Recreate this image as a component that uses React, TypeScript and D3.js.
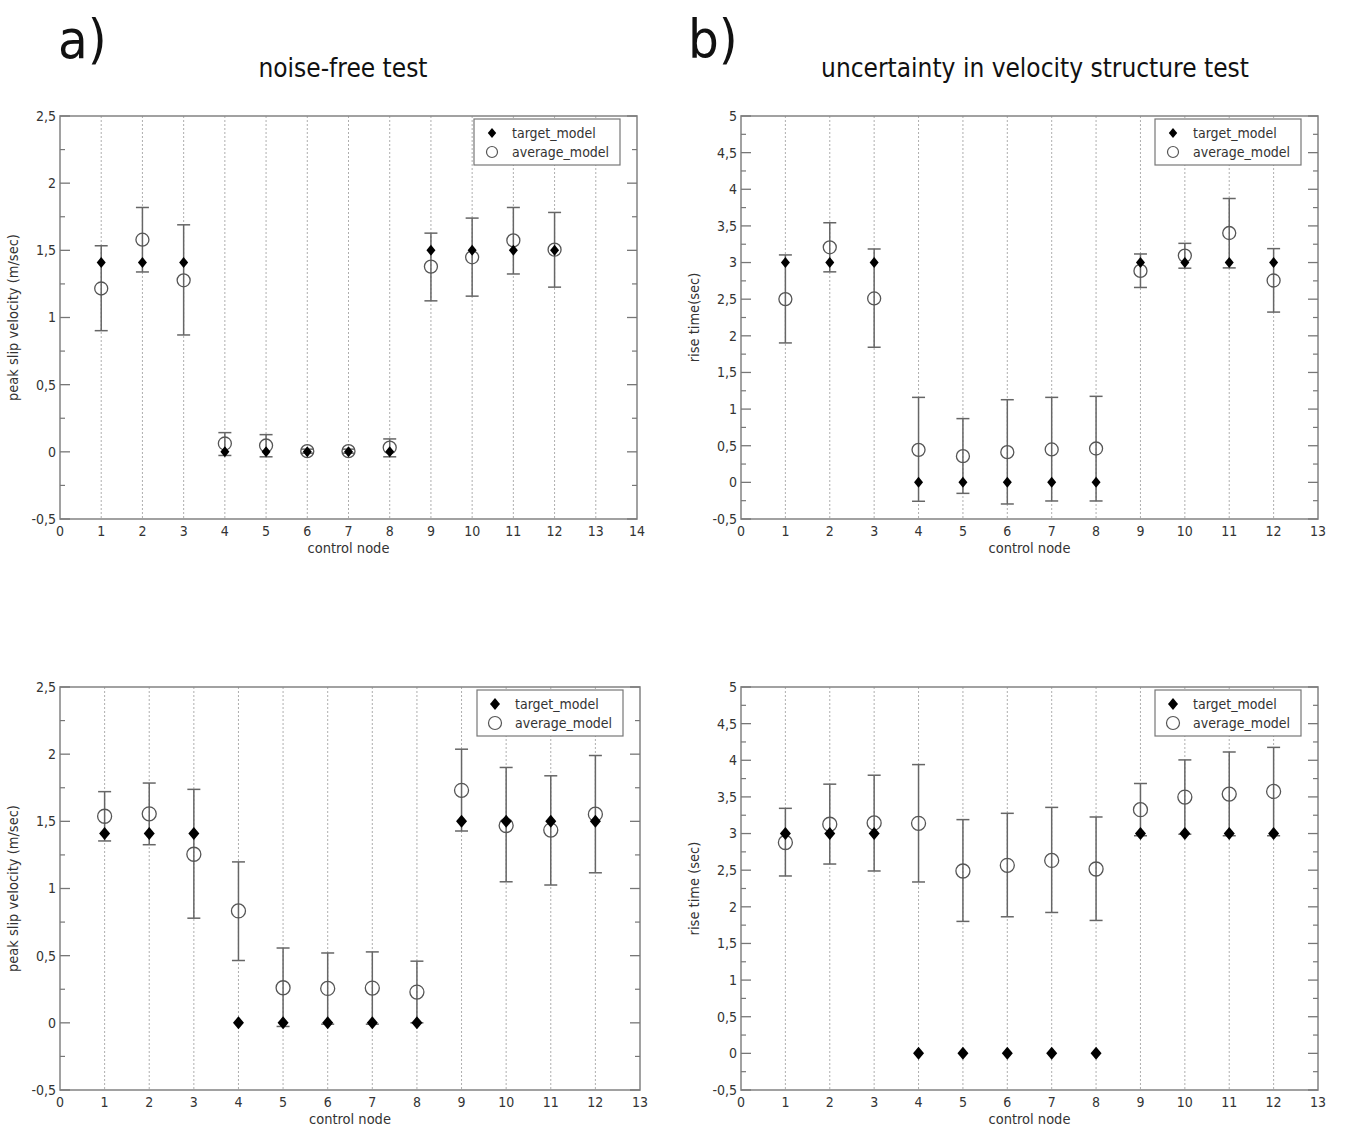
import React from "react";
import * as d3 from "d3";

const nodes = [1, 2, 3, 4, 5, 6, 7, 8, 9, 10, 11, 12];

// Panel a) top: peak slip velocity, noise-free test
const targetA1 = [1.41, 1.41, 1.41, 0, 0, 0, 0, 0, 1.5, 1.5, 1.5, 1.5];
const avgA1 = [1.216, 1.579, 1.277, 0.062, 0.047, 0.005, 0.005, 0.032, 1.379, 1.448, 1.574, 1.505];
const hiA1 = [1.534, 1.819, 1.69, 0.143, 0.128, 0.02, 0.02, 0.096, 1.628, 1.74, 1.819, 1.782];
const loA1 = [0.902, 1.339, 0.87, -0.027, -0.037, -0.01, -0.01, -0.037, 1.124, 1.159, 1.324, 1.226];

// Panel b) top: rise time, uncertainty in velocity structure test
const targetB1 = [3, 3, 3, 0, 0, 0, 0, 0, 3, 3, 3, 3];
const avgB1 = [2.501, 3.208, 2.51, 0.444, 0.358, 0.412, 0.449, 0.462, 2.886, 3.095, 3.403, 2.755];
const hiB1 = [3.104, 3.543, 3.185, 1.16, 0.87, 1.128, 1.16, 1.174, 3.117, 3.262, 3.874, 3.19];
const loB1 = [1.903, 2.873, 1.844, -0.258, -0.15, -0.295, -0.254, -0.254, 2.66, 2.923, 2.927, 2.324];

// Panel a) bottom
const targetA2 = [1.41, 1.41, 1.41, 0, 0, 0, 0, 0, 1.5, 1.5, 1.5, 1.5];
const avgA2 = [1.538, 1.556, 1.255, 0.833, 0.261, 0.256, 0.259, 0.229, 1.731, 1.469, 1.435, 1.553];
const hiA2 = [1.721, 1.785, 1.738, 1.198, 0.557, 0.52, 0.528, 0.459, 2.037, 1.901, 1.839, 1.99];
const loA2 = [1.354, 1.326, 0.779, 0.464, -0.027, -0.01, -0.01, 0.0, 1.428, 1.05, 1.026, 1.117];

// Panel b) bottom
const targetB2 = [3, 3, 3, 0, 0, 0, 0, 0, 3, 3, 3, 3];
const avgB2 = [2.878, 3.127, 3.145, 3.14, 2.489, 2.566, 2.633, 2.516, 3.326, 3.498, 3.538, 3.575];
const hiB2 = [3.344, 3.674, 3.796, 3.941, 3.19, 3.276, 3.357, 3.226, 3.683, 4.005, 4.113, 4.176];
const loB2 = [2.421, 2.584, 2.489, 2.339, 1.801, 1.864, 1.923, 1.814, 2.97, 2.99, 2.97, 2.97];

const velTicks = [-0.5, 0, 0.5, 1, 1.5, 2, 2.5];
const riseTicks = [-0.5, 0, 0.5, 1, 1.5, 2, 2.5, 3, 3.5, 4, 4.5, 5];
const xTicks14 = d3.range(0, 15);
const xTicks13 = d3.range(0, 14);

const seriesNames = ["target_model", "average_model"];
const titles = ["noise-free test", "uncertainty in velocity structure test"];
const panelLetters = ["a)", "b)"];

const FONT = "'Liberation Sans Narrow', 'DejaVu Sans Condensed', 'Open Sans', sans-serif";
const fmt = (v: number) => String(v).replace(".", ",");

type PanelProps = {
  left: number; right: number; top: number; bottom: number;
  xMax: number; xTicks: number[]; yDomain: [number, number]; yTicks: number[];
  yLabel: string; target: number[]; avg: number[]; hi: number[]; lo: number[];
  big: boolean;
};

function Panel(p: PanelProps) {
  const x = d3.scaleLinear().domain([0, p.xMax]).range([p.left, p.right]);
  const y = d3.scaleLinear().domain(p.yDomain).range([p.bottom, p.top]);
  const minor = d3.range(p.yDomain[0] + 0.25, p.yDomain[1], 0.5);
  const dSize = p.big ? 6.5 : 5.5;
  const dW = p.big ? 5.5 : 4.5;
  const cr = p.big ? 7 : 6.5;
  const diamond = (cx: number, cy: number, s: number, w: number) =>
    `M${cx},${cy - s}L${cx + w},${cy}L${cx},${cy + s}L${cx - w},${cy}Z`;
  const legX = p.right - 17 - 146;
  const legY = p.top + 3;
  return (
    <g>
      {p.xTicks.slice(1, -1).map((t) => (
        <line key={"g" + t} x1={x(t)} x2={x(t)} y1={p.top} y2={p.bottom}
          stroke="#999" strokeWidth={0.8} strokeDasharray="2,2" />
      ))}
      <rect x={p.left} y={p.top} width={p.right - p.left} height={p.bottom - p.top}
        fill="none" stroke="#8a8a8a" strokeWidth={1.6} />
      {p.yTicks.map((t) => (
        <g key={"yt" + t}>
          <line x1={p.left} x2={p.left + 10} y1={y(t)} y2={y(t)} stroke="#777" strokeWidth={1.3} />
          <line x1={p.right} x2={p.right - 10} y1={y(t)} y2={y(t)} stroke="#777" strokeWidth={1.3} />
          <text x={p.left - 4} y={y(t)} dy="0.35em" textAnchor="end" fontSize={14} fill="#333" fontFamily={FONT}>{fmt(t)}</text>
        </g>
      ))}
      {minor.map((t) => (
        <g key={"mt" + t}>
          <line x1={p.left} x2={p.left + 5} y1={y(t)} y2={y(t)} stroke="#777" strokeWidth={1.2} />
          <line x1={p.right} x2={p.right - 5} y1={y(t)} y2={y(t)} stroke="#777" strokeWidth={1.2} />
        </g>
      ))}
      {p.xTicks.map((t) => (
        <text key={"xt" + t} x={x(t)} y={p.bottom + 17} textAnchor="middle" fontSize={14} fill="#333" fontFamily={FONT}>{t}</text>
      ))}
      <text x={(p.left + p.right) / 2} y={p.bottom + 34} textAnchor="middle" fontSize={14.5} fill="#333" fontFamily={FONT}>control node</text>
      <text transform={`translate(${p.left - 42},${(p.top + p.bottom) / 2}) rotate(-90)`} textAnchor="middle"
        fontSize={14.5} fill="#333" fontFamily={FONT}>{p.yLabel}</text>
      {nodes.map((n, i) => (
        <g key={"e" + n} stroke="#666" strokeWidth={1.5}>
          <line x1={x(n)} x2={x(n)} y1={y(p.hi[i])} y2={y(p.lo[i])} />
          <line x1={x(n) - 6.5} x2={x(n) + 6.5} y1={y(p.hi[i])} y2={y(p.hi[i])} />
          <line x1={x(n) - 6.5} x2={x(n) + 6.5} y1={y(p.lo[i])} y2={y(p.lo[i])} />
        </g>
      ))}
      {nodes.map((n, i) => (
        <circle key={"c" + n} cx={x(n)} cy={y(p.avg[i])} r={cr} fill="none" stroke="#555" strokeWidth={1.3} />
      ))}
      {nodes.map((n, i) => (
        <path key={"d" + n} d={diamond(x(n), y(p.target[i]), dSize, dW)} fill="#000" />
      ))}
      <rect x={legX} y={legY} width={146} height={46} fill="#fff" stroke="#777" strokeWidth={1.2} />
      <path d={diamond(legX + 18, legY + 14, p.big ? 6 : 5, p.big ? 5 : 4.2)} fill="#000" />
      <circle cx={legX + 18} cy={legY + 33} r={p.big ? 6.5 : 5.5} fill="none" stroke="#555" strokeWidth={1.2} />
      <text x={legX + 38} y={legY + 14} dy="0.35em" fontSize={14} fill="#333" fontFamily={FONT}>{seriesNames[0]}</text>
      <text x={legX + 38} y={legY + 33} dy="0.35em" fontSize={14} fill="#333" fontFamily={FONT}>{seriesNames[1]}</text>
    </g>
  );
}

export default function App() {
  return (
    <svg width={1345} height={1132} style={{ display: "block", position: "absolute", left: 0, top: 0 }}>
      <rect width={1345} height={1132} fill="#fff" />
      <text x={58} y={58} fontSize={54} fill="#111" fontFamily={FONT}>{panelLetters[0]}</text>
      <text x={688} y={58} fontSize={54} fill="#111" fontFamily={FONT}>{panelLetters[1]}</text>
      <text x={343} y={77} textAnchor="middle" fontSize={26} fill="#111" fontFamily={FONT}>{titles[0]}</text>
      <text x={1035} y={77} textAnchor="middle" fontSize={26} fill="#111" fontFamily={FONT}>{titles[1]}</text>
      <Panel left={60} right={637} top={116} bottom={519} xMax={14} xTicks={xTicks14} yDomain={[-0.5, 2.5]} yTicks={velTicks}
        yLabel="peak slip velocity (m/sec)" target={targetA1} avg={avgA1} hi={hiA1} lo={loA1} big={false} />
      <Panel left={741} right={1318} top={116} bottom={519} xMax={13} xTicks={xTicks13} yDomain={[-0.5, 5]} yTicks={riseTicks}
        yLabel="rise time(sec)" target={targetB1} avg={avgB1} hi={hiB1} lo={loB1} big={false} />
      <Panel left={60} right={640} top={687} bottom={1090} xMax={13} xTicks={xTicks13} yDomain={[-0.5, 2.5]} yTicks={velTicks}
        yLabel="peak slip velocity (m/sec)" target={targetA2} avg={avgA2} hi={hiA2} lo={loA2} big={true} />
      <Panel left={741} right={1318} top={687} bottom={1090} xMax={13} xTicks={xTicks13} yDomain={[-0.5, 5]} yTicks={riseTicks}
        yLabel="rise time (sec)" target={targetB2} avg={avgB2} hi={hiB2} lo={loB2} big={true} />
    </svg>
  );
}
